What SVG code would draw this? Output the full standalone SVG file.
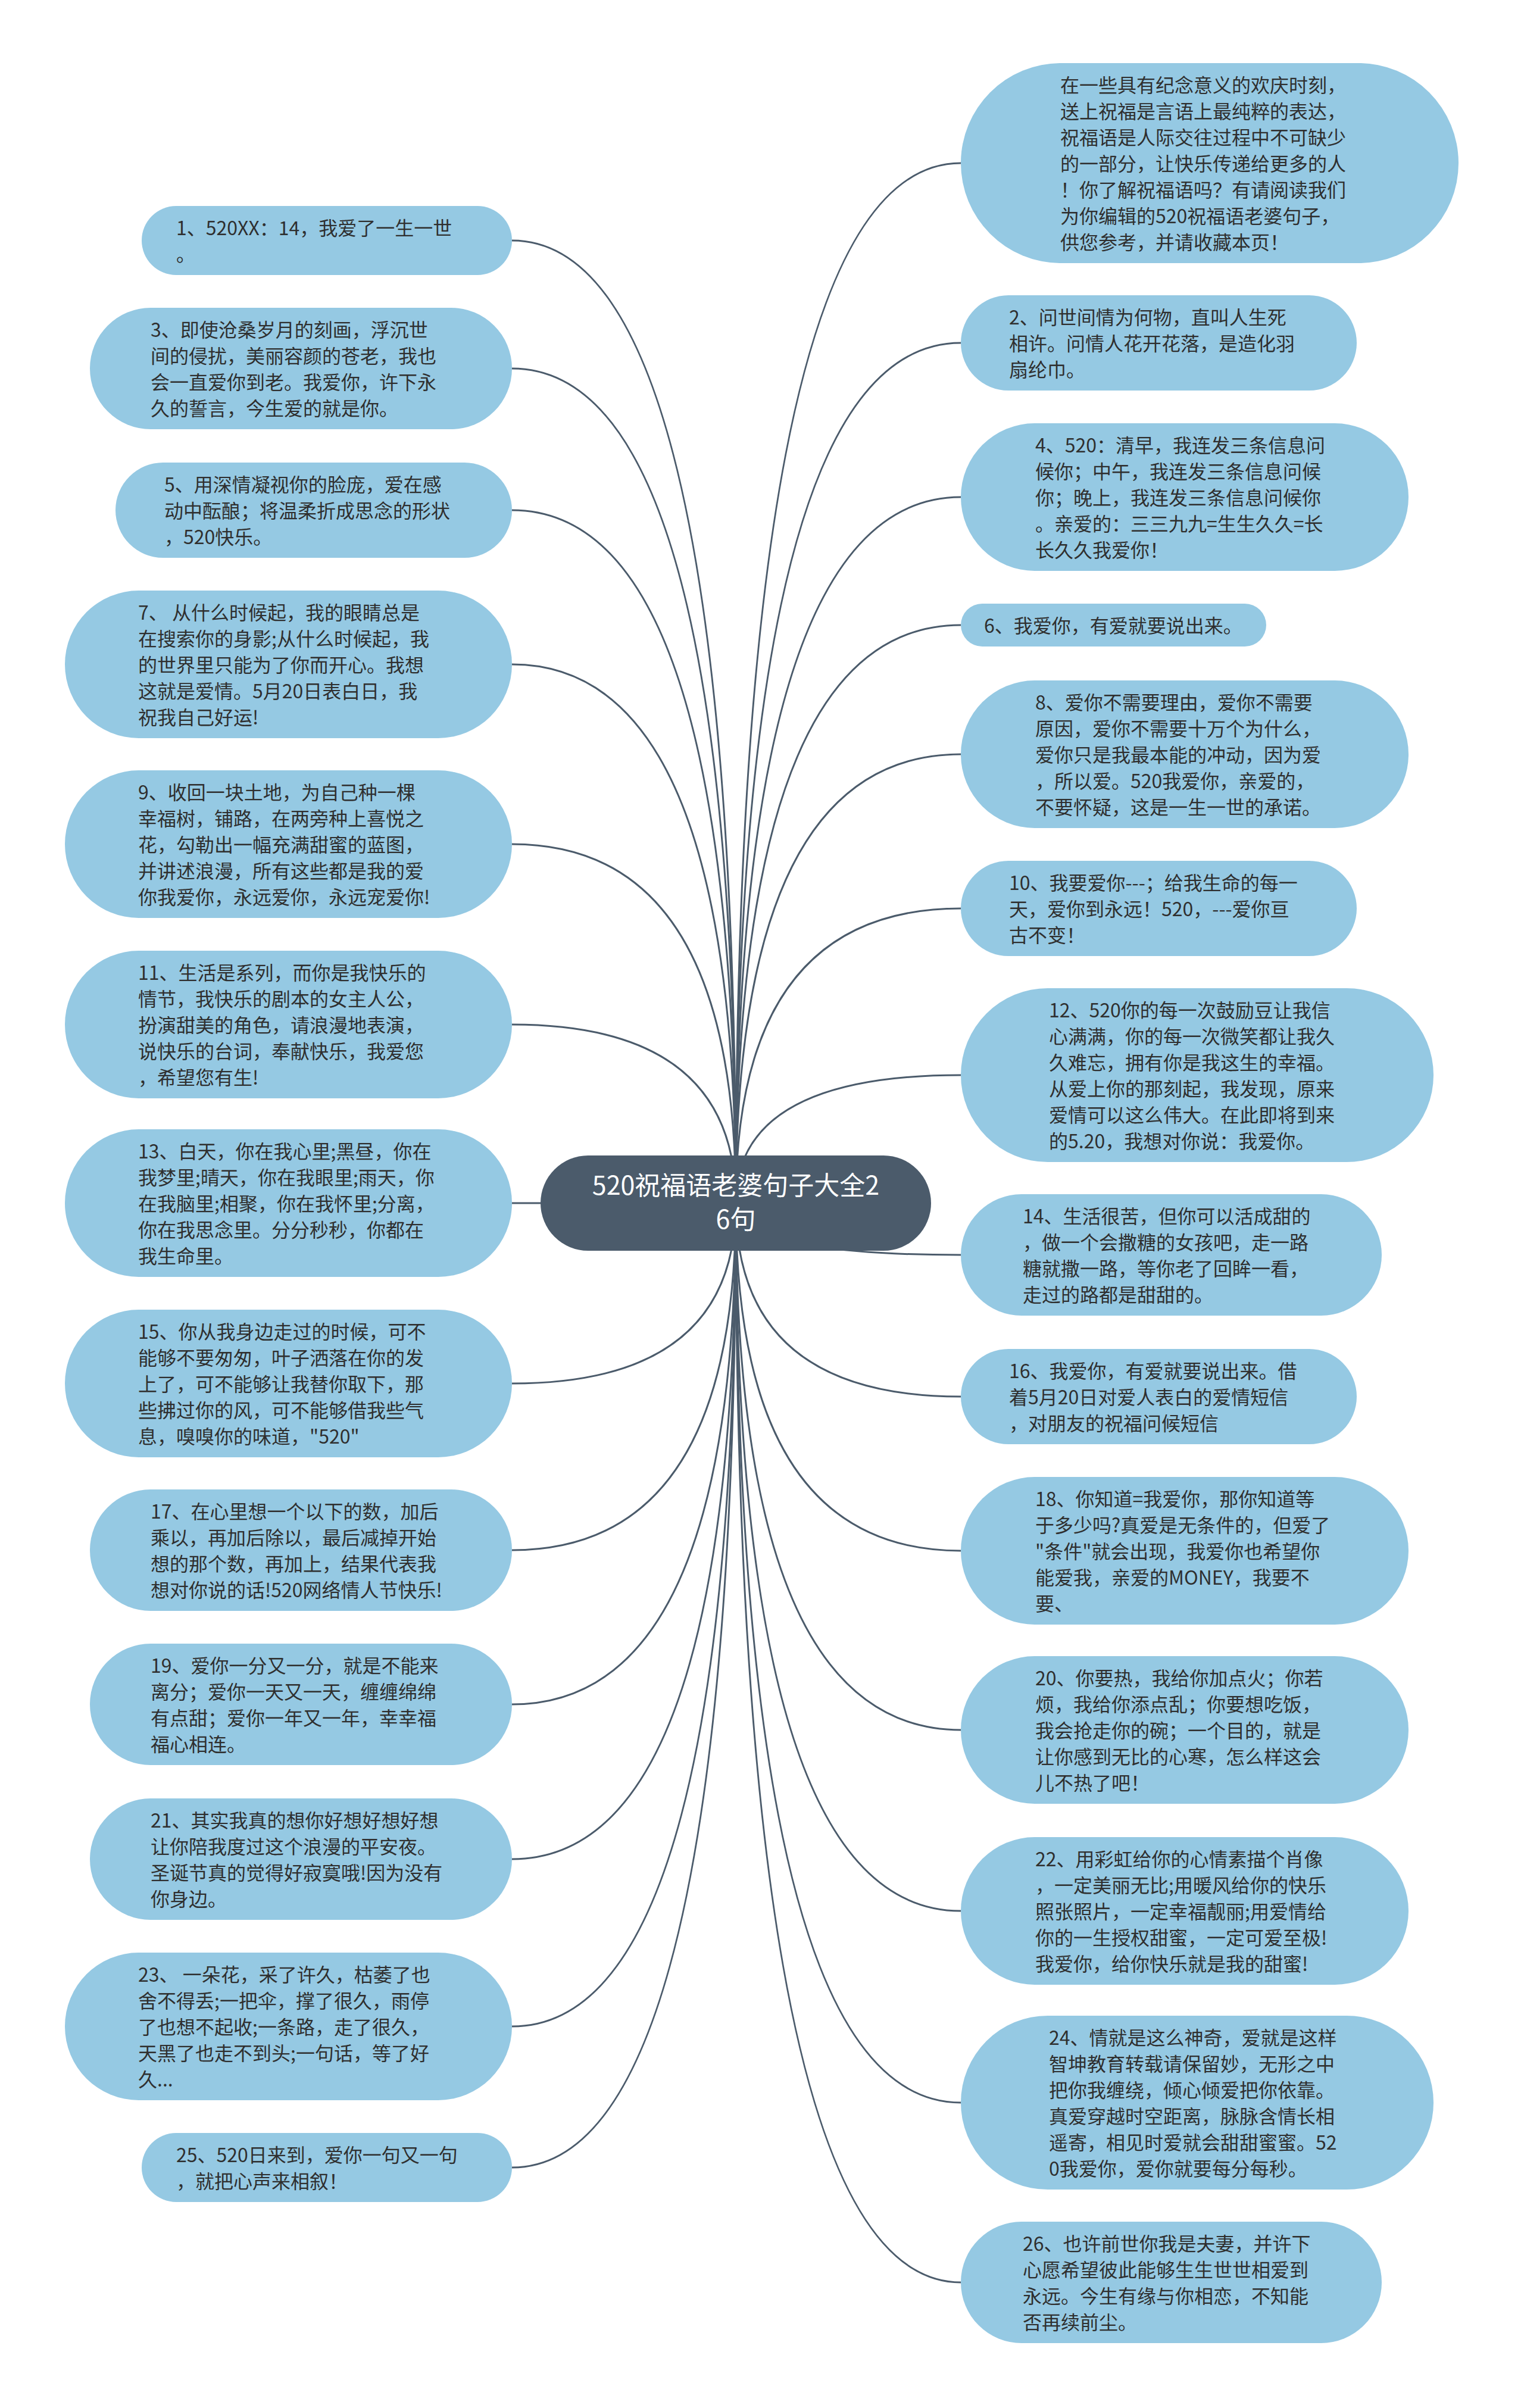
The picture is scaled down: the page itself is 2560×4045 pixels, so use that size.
<svg xmlns="http://www.w3.org/2000/svg" width="2560" height="4045" viewBox="0 0 2560 4045">
<style>
.n{fill:#95C9E3}
.t{font-family:"Noto Sans CJK SC","Noto Sans",sans-serif;font-size:32px;fill:#2f2f2f}
.c{fill:none;stroke:#4B5B6B;stroke-width:3}
.root{fill:#4B5B6B}
.rt{font-family:"Noto Sans CJK SC","Noto Sans",sans-serif;font-size:43px;fill:#ffffff;text-anchor:middle}
</style>
<rect width="2560" height="4045" fill="#ffffff"/>
<g id="connectors">
<path class="c" d="M1236,2021 Q1236,404 860,404"/>
<path class="c" d="M1236,2021 Q1236,619 860,619"/>
<path class="c" d="M1236,2021 Q1236,857 860,857"/>
<path class="c" d="M1236,2021 Q1236,1116 860,1116"/>
<path class="c" d="M1236,2021 Q1236,1418 860,1418"/>
<path class="c" d="M1236,2021 Q1236,1721 860,1721"/>
<path class="c" d="M1236,2021 L860,2021"/>
<path class="c" d="M1236,2021 Q1236,2324 860,2324"/>
<path class="c" d="M1236,2021 Q1236,2604 860,2604"/>
<path class="c" d="M1236,2021 Q1236,2863 860,2863"/>
<path class="c" d="M1236,2021 Q1236,3123 860,3123"/>
<path class="c" d="M1236,2021 Q1236,3404 860,3404"/>
<path class="c" d="M1236,2021 Q1236,3641 860,3641"/>
<path class="c" d="M1236,2021 Q1236,274 1614,274"/>
<path class="c" d="M1236,2021 Q1236,576 1614,576"/>
<path class="c" d="M1236,2021 Q1236,835 1614,835"/>
<path class="c" d="M1236,2021 Q1236,1050 1614,1050"/>
<path class="c" d="M1236,2021 Q1236,1267 1614,1267"/>
<path class="c" d="M1236,2021 Q1236,1526 1614,1526"/>
<path class="c" d="M1236,2021 Q1236,1806 1614,1806"/>
<path class="c" d="M1236,2021 Q1236,2108 1614,2108"/>
<path class="c" d="M1236,2021 Q1236,2346 1614,2346"/>
<path class="c" d="M1236,2021 Q1236,2605 1614,2605"/>
<path class="c" d="M1236,2021 Q1236,2906 1614,2906"/>
<path class="c" d="M1236,2021 Q1236,3210 1614,3210"/>
<path class="c" d="M1236,2021 Q1236,3532 1614,3532"/>
<path class="c" d="M1236,2021 Q1236,3834 1614,3834"/>
</g>
<g id="root">
<rect class="root" x="908" y="1941" width="656" height="160" rx="80" ry="80"/>
<text class="rt"><tspan x="1236" y="2007">520祝福语老婆句子大全2</tspan><tspan x="1236" y="2064">6句</tspan></text>
</g>
<g id="n1"><rect class="n" x="238" y="346" width="622" height="116" rx="58"/>
<text class="t"><tspan x="296" y="395">1、520XX：14，我爱了一生一世</tspan><tspan x="296" y="439">。</tspan></text></g>
<g id="n3"><rect class="n" x="151" y="517" width="709" height="204" rx="102"/>
<text class="t"><tspan x="253" y="566">3、即使沧桑岁月的刻画，浮沉世</tspan><tspan x="253" y="610">间的侵扰，美丽容颜的苍老，我也</tspan><tspan x="253" y="654">会一直爱你到老。我爱你，许下永</tspan><tspan x="253" y="698">久的誓言，今生爱的就是你。</tspan></text></g>
<g id="n5"><rect class="n" x="194" y="777" width="666" height="160" rx="80"/>
<text class="t"><tspan x="276" y="826">5、用深情凝视你的脸庞，爱在感</tspan><tspan x="276" y="870">动中酝酿；将温柔折成思念的形状</tspan><tspan x="276" y="914">，520快乐。</tspan></text></g>
<g id="n7"><rect class="n" x="109" y="992" width="751" height="248" rx="124"/>
<text class="t"><tspan x="232" y="1041">7、 从什么时候起，我的眼睛总是</tspan><tspan x="232" y="1085">在搜索你的身影;从什么时候起，我</tspan><tspan x="232" y="1129">的世界里只能为了你而开心。我想</tspan><tspan x="232" y="1173">这就是爱情。5月20日表白日，我</tspan><tspan x="232" y="1217">祝我自己好运!</tspan></text></g>
<g id="n9"><rect class="n" x="109" y="1294" width="751" height="248" rx="124"/>
<text class="t"><tspan x="232" y="1343">9、收回一块土地，为自己种一棵</tspan><tspan x="232" y="1387">幸福树，铺路，在两旁种上喜悦之</tspan><tspan x="232" y="1431">花，勾勒出一幅充满甜蜜的蓝图，</tspan><tspan x="232" y="1475">并讲述浪漫，所有这些都是我的爱</tspan><tspan x="232" y="1519">你我爱你，永远爱你，永远宠爱你!</tspan></text></g>
<g id="n11"><rect class="n" x="109" y="1597" width="751" height="248" rx="124"/>
<text class="t"><tspan x="232" y="1646">11、生活是系列，而你是我快乐的</tspan><tspan x="232" y="1690">情节，我快乐的剧本的女主人公，</tspan><tspan x="232" y="1734">扮演甜美的角色，请浪漫地表演，</tspan><tspan x="232" y="1778">说快乐的台词，奉献快乐，我爱您</tspan><tspan x="232" y="1822">，希望您有生!</tspan></text></g>
<g id="n13"><rect class="n" x="109" y="1897" width="751" height="248" rx="124"/>
<text class="t"><tspan x="232" y="1946">13、白天，你在我心里;黑昼，你在</tspan><tspan x="232" y="1990">我梦里;晴天，你在我眼里;雨天，你</tspan><tspan x="232" y="2034">在我脑里;相聚，你在我怀里;分离，</tspan><tspan x="232" y="2078">你在我思念里。分分秒秒，你都在</tspan><tspan x="232" y="2122">我生命里。</tspan></text></g>
<g id="n15"><rect class="n" x="109" y="2200" width="751" height="248" rx="124"/>
<text class="t"><tspan x="232" y="2249">15、你从我身边走过的时候，可不</tspan><tspan x="232" y="2293">能够不要匆匆，叶子洒落在你的发</tspan><tspan x="232" y="2337">上了，可不能够让我替你取下，那</tspan><tspan x="232" y="2381">些拂过你的风，可不能够借我些气</tspan><tspan x="232" y="2425">息，嗅嗅你的味道，"520"</tspan></text></g>
<g id="n17"><rect class="n" x="151" y="2502" width="709" height="204" rx="102"/>
<text class="t"><tspan x="253" y="2551">17、在心里想一个以下的数，加后</tspan><tspan x="253" y="2595">乘以，再加后除以，最后减掉开始</tspan><tspan x="253" y="2639">想的那个数，再加上，结果代表我</tspan><tspan x="253" y="2683">想对你说的话!520网络情人节快乐!</tspan></text></g>
<g id="n19"><rect class="n" x="151" y="2761" width="709" height="204" rx="102"/>
<text class="t"><tspan x="253" y="2810">19、爱你一分又一分，就是不能来</tspan><tspan x="253" y="2854">离分；爱你一天又一天，缠缠绵绵</tspan><tspan x="253" y="2898">有点甜；爱你一年又一年，幸幸福</tspan><tspan x="253" y="2942">福心相连。</tspan></text></g>
<g id="n21"><rect class="n" x="151" y="3021" width="709" height="204" rx="102"/>
<text class="t"><tspan x="253" y="3070">21、其实我真的想你好想好想好想</tspan><tspan x="253" y="3114">让你陪我度过这个浪漫的平安夜。</tspan><tspan x="253" y="3158">圣诞节真的觉得好寂寞哦!因为没有</tspan><tspan x="253" y="3202">你身边。</tspan></text></g>
<g id="n23"><rect class="n" x="109" y="3280" width="751" height="248" rx="124"/>
<text class="t"><tspan x="232" y="3329">23、 一朵花，采了许久，枯萎了也</tspan><tspan x="232" y="3373">舍不得丢;一把伞，撑了很久，雨停</tspan><tspan x="232" y="3417">了也想不起收;一条路，走了很久，</tspan><tspan x="232" y="3461">天黑了也走不到头;一句话，等了好</tspan><tspan x="232" y="3505">久...</tspan></text></g>
<g id="n25"><rect class="n" x="238" y="3583" width="622" height="116" rx="58"/>
<text class="t"><tspan x="296" y="3632">25、520日来到，爱你一句又一句</tspan><tspan x="296" y="3676">，就把心声来相叙！</tspan></text></g>
<g id="intro"><rect class="n" x="1614" y="106" width="836" height="336" rx="168"/>
<text class="t"><tspan x="1781" y="155">在一些具有纪念意义的欢庆时刻，</tspan><tspan x="1781" y="199">送上祝福是言语上最纯粹的表达，</tspan><tspan x="1781" y="243">祝福语是人际交往过程中不可缺少</tspan><tspan x="1781" y="287">的一部分，让快乐传递给更多的人</tspan><tspan x="1781" y="331">！你了解祝福语吗？有请阅读我们</tspan><tspan x="1781" y="375">为你编辑的520祝福语老婆句子，</tspan><tspan x="1781" y="419">供您参考，并请收藏本页！</tspan></text></g>
<g id="n2"><rect class="n" x="1614" y="496" width="665" height="160" rx="80"/>
<text class="t"><tspan x="1695" y="545">2、问世间情为何物，直叫人生死</tspan><tspan x="1695" y="589">相许。问情人花开花落，是造化羽</tspan><tspan x="1695" y="633">扇纶巾。</tspan></text></g>
<g id="n4"><rect class="n" x="1614" y="711" width="752" height="248" rx="124"/>
<text class="t"><tspan x="1739" y="760">4、520：清早，我连发三条信息问</tspan><tspan x="1739" y="804">候你；中午，我连发三条信息问候</tspan><tspan x="1739" y="848">你；晚上，我连发三条信息问候你</tspan><tspan x="1739" y="892">。亲爱的：三三九九=生生久久=长</tspan><tspan x="1739" y="936">长久久我爱你！</tspan></text></g>
<g id="n6"><rect class="n" x="1614" y="1014" width="513" height="72" rx="36"/>
<text class="t"><tspan x="1653" y="1063">6、我爱你，有爱就要说出来。</tspan></text></g>
<g id="n8"><rect class="n" x="1614" y="1143" width="752" height="248" rx="124"/>
<text class="t"><tspan x="1739" y="1192">8、爱你不需要理由，爱你不需要</tspan><tspan x="1739" y="1236">原因，爱你不需要十万个为什么，</tspan><tspan x="1739" y="1280">爱你只是我最本能的冲动，因为爱</tspan><tspan x="1739" y="1324">，所以爱。520我爱你，亲爱的，</tspan><tspan x="1739" y="1368">不要怀疑，这是一生一世的承诺。</tspan></text></g>
<g id="n10"><rect class="n" x="1614" y="1446" width="665" height="160" rx="80"/>
<text class="t"><tspan x="1695" y="1495">10、我要爱你---；给我生命的每一</tspan><tspan x="1695" y="1539">天，爱你到永远！520，---爱你亘</tspan><tspan x="1695" y="1583">古不变！</tspan></text></g>
<g id="n12"><rect class="n" x="1614" y="1660" width="794" height="292" rx="146"/>
<text class="t"><tspan x="1762" y="1709">12、520你的每一次鼓励豆让我信</tspan><tspan x="1762" y="1753">心满满，你的每一次微笑都让我久</tspan><tspan x="1762" y="1797">久难忘，拥有你是我这生的幸福。</tspan><tspan x="1762" y="1841">从爱上你的那刻起，我发现，原来</tspan><tspan x="1762" y="1885">爱情可以这么伟大。在此即将到来</tspan><tspan x="1762" y="1929">的5.20，我想对你说：我爱你。</tspan></text></g>
<g id="n14"><rect class="n" x="1614" y="2006" width="707" height="204" rx="102"/>
<text class="t"><tspan x="1718" y="2055">14、生活很苦，但你可以活成甜的</tspan><tspan x="1718" y="2099">，做一个会撒糖的女孩吧，走一路</tspan><tspan x="1718" y="2143">糖就撒一路，等你老了回眸一看，</tspan><tspan x="1718" y="2187">走过的路都是甜甜的。</tspan></text></g>
<g id="n16"><rect class="n" x="1614" y="2266" width="665" height="160" rx="80"/>
<text class="t"><tspan x="1695" y="2315">16、我爱你，有爱就要说出来。借</tspan><tspan x="1695" y="2359">着5月20日对爱人表白的爱情短信</tspan><tspan x="1695" y="2403">，对朋友的祝福问候短信</tspan></text></g>
<g id="n18"><rect class="n" x="1614" y="2481" width="752" height="248" rx="124"/>
<text class="t"><tspan x="1739" y="2530">18、你知道=我爱你，那你知道等</tspan><tspan x="1739" y="2574">于多少吗?真爱是无条件的，但爱了</tspan><tspan x="1739" y="2618">"条件"就会出现，我爱你也希望你</tspan><tspan x="1739" y="2662">能爱我，亲爱的MONEY，我要不</tspan><tspan x="1739" y="2706">要、</tspan></text></g>
<g id="n20"><rect class="n" x="1614" y="2782" width="752" height="248" rx="124"/>
<text class="t"><tspan x="1739" y="2831">20、你要热，我给你加点火；你若</tspan><tspan x="1739" y="2875">烦，我给你添点乱；你要想吃饭，</tspan><tspan x="1739" y="2919">我会抢走你的碗；一个目的，就是</tspan><tspan x="1739" y="2963">让你感到无比的心寒，怎么样这会</tspan><tspan x="1739" y="3007">儿不热了吧！</tspan></text></g>
<g id="n22"><rect class="n" x="1614" y="3086" width="752" height="248" rx="124"/>
<text class="t"><tspan x="1739" y="3135">22、用彩虹给你的心情素描个肖像</tspan><tspan x="1739" y="3179">，一定美丽无比;用暖风给你的快乐</tspan><tspan x="1739" y="3223">照张照片，一定幸福靓丽;用爱情给</tspan><tspan x="1739" y="3267">你的一生授权甜蜜，一定可爱至极!</tspan><tspan x="1739" y="3311">我爱你，给你快乐就是我的甜蜜!</tspan></text></g>
<g id="n24"><rect class="n" x="1614" y="3386" width="794" height="292" rx="146"/>
<text class="t"><tspan x="1762" y="3435">24、情就是这么神奇，爱就是这样</tspan><tspan x="1762" y="3479">智坤教育转载请保留妙，无形之中</tspan><tspan x="1762" y="3523">把你我缠绕，倾心倾爱把你依靠。</tspan><tspan x="1762" y="3567">真爱穿越时空距离，脉脉含情长相</tspan><tspan x="1762" y="3611">遥寄，相见时爱就会甜甜蜜蜜。52</tspan><tspan x="1762" y="3655">0我爱你，爱你就要每分每秒。</tspan></text></g>
<g id="n26"><rect class="n" x="1614" y="3732" width="707" height="204" rx="102"/>
<text class="t"><tspan x="1718" y="3781">26、也许前世你我是夫妻，并许下</tspan><tspan x="1718" y="3825">心愿希望彼此能够生生世世相爱到</tspan><tspan x="1718" y="3869">永远。今生有缘与你相恋，不知能</tspan><tspan x="1718" y="3913">否再续前尘。</tspan></text></g>
</svg>
